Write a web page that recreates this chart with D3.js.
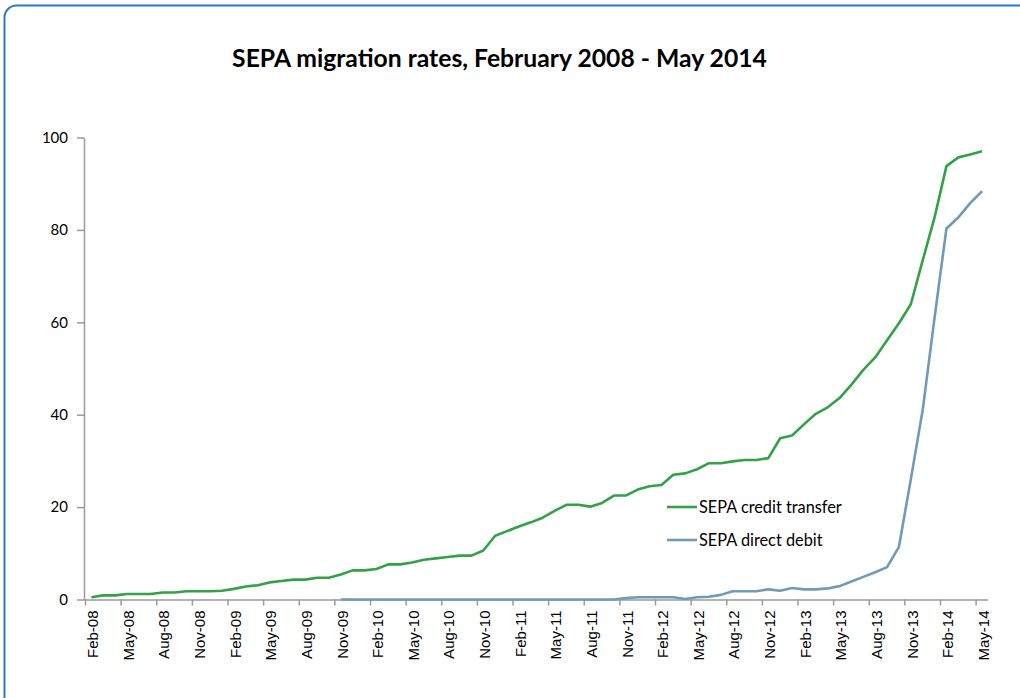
<!DOCTYPE html>
<html>
<head>
<meta charset="utf-8">
<script src="https://cdn.jsdelivr.net/npm/d3@7"></script>
<style>
  body { margin: 0; background: #fff; }
  svg { display: block; }
</style>
</head>
<body>
<div id="chart"></div>
<script>
// month categories, Feb-08 .. May-14
const months = [
    "Feb-08", "Mar-08", "Apr-08", "May-08", "Jun-08", "Jul-08", "Aug-08", "Sep-08", "Oct-08", "Nov-08", "Dec-08", "Jan-09",
    "Feb-09", "Mar-09", "Apr-09", "May-09", "Jun-09", "Jul-09", "Aug-09", "Sep-09", "Oct-09", "Nov-09", "Dec-09", "Jan-10",
    "Feb-10", "Mar-10", "Apr-10", "May-10", "Jun-10", "Jul-10", "Aug-10", "Sep-10", "Oct-10", "Nov-10", "Dec-10", "Jan-11",
    "Feb-11", "Mar-11", "Apr-11", "May-11", "Jun-11", "Jul-11", "Aug-11", "Sep-11", "Oct-11", "Nov-11", "Dec-11", "Jan-12",
    "Feb-12", "Mar-12", "Apr-12", "May-12", "Jun-12", "Jul-12", "Aug-12", "Sep-12", "Oct-12", "Nov-12", "Dec-12", "Jan-13",
    "Feb-13", "Mar-13", "Apr-13", "May-13", "Jun-13", "Jul-13", "Aug-13", "Sep-13", "Oct-13", "Nov-13", "Dec-13", "Jan-14",
    "Feb-14", "Mar-14", "Apr-14", "May-14"
];

// only every third month gets a label
const tickLabels = [
    "Feb-08", "May-08", "Aug-08", "Nov-08", "Feb-09", "May-09", "Aug-09", "Nov-09", "Feb-10", "May-10", "Aug-10", "Nov-10",
    "Feb-11", "May-11", "Aug-11", "Nov-11", "Feb-12", "May-12", "Aug-12", "Nov-12", "Feb-13", "May-13", "Aug-13", "Nov-13",
    "Feb-14", "May-14"
];

const creditTransfer = [
    0.5, 0.9, 0.9, 1.2, 1.2, 1.2, 1.5, 1.5, 1.8, 1.8, 1.8, 1.9,
    2.3, 2.8, 3.1, 3.7, 4.0, 4.3, 4.3, 4.7, 4.7, 5.4, 6.3, 6.3,
    6.6, 7.6, 7.6, 8.0, 8.6, 8.9, 9.2, 9.5, 9.5, 10.6, 13.8, 14.8,
    15.8, 16.7, 17.7, 19.2, 20.5, 20.5, 20.1, 20.9, 22.5, 22.5, 23.8, 24.5,
    24.8, 27.0, 27.3, 28.2, 29.5, 29.5, 29.9, 30.2, 30.2, 30.6, 34.9, 35.5,
    37.9, 40.2, 41.6, 43.6, 46.5, 49.7, 52.4, 56.1, 59.8, 63.9, 73.4, 82.7,
    93.8, 95.7, 96.3, 97.0
];

// direct debit only reported from Nov-09
const directDebit = [
    null, null, null, null, null, null, null, null, null, null, null, null,
    null, null, null, null, null, null, null, null, null, 0, 0, 0,
    0, 0, 0, 0, 0, 0, 0, 0, 0, 0, 0, 0,
    0, 0, 0, 0, 0, 0, 0, 0, 0, 0.3, 0.5, 0.5,
    0.5, 0.5, 0.1, 0.5, 0.6, 1.0, 1.8, 1.8, 1.8, 2.2, 1.9, 2.5,
    2.2, 2.2, 2.4, 2.9, 3.9, 4.9, 5.9, 7.0, 11.4, 26.0, 41.0, 61.0,
    80.3, 82.7, 85.8, 88.4
];

const yTicks = [0, 20, 40, 60, 80, 100];

const seriesList = [
    { name: "SEPA credit transfer", values: creditTransfer, color: "#33a146" },
    { name: "SEPA direct debit", values: directDebit, color: "#7199b8" }
];

const width = 1020, height = 698;
const plot = { left: 85.5, right: 988, top: 137.5, bottom: 599.5 };

const svg = d3.select("#chart")
    .append("svg")
    .attr("width", width)
    .attr("height", height);

// outer frame
svg.append("rect")
    .attr("x", 4.5)
    .attr("y", 5.5)
    .attr("width", 1040)
    .attr("height", 730)
    .attr("rx", 12)
    .attr("fill", "none")
    .attr("stroke", "#2a7bc6")
    .attr("stroke-width", 2);

const title = svg.append("text")
    .attr("x", 499.5)
    .attr("y", 67)
    .attr("text-anchor", "middle")
    .style("font-family", "Lato, 'Open Sans', sans-serif")
    .style("font-weight", "bold")
    .style("font-size", "22px")
    .attr("fill", "#000")
    .text("SEPA migration rates, February 2008 - May 2014");
// fit the title to the width it has in the picture
const tw = title.node().getComputedTextLength();
title.style("font-size", (22 * 535 / tw) + "px");

const xScale = d3.scaleBand()
    .domain(months)
    .range([plot.left, plot.right])
    .paddingInner(0)
    .paddingOuter(0);
const bw = xScale.bandwidth();

const yScale = d3.scaleLinear()
    .domain([0, 100])
    .range([plot.bottom, plot.top]);

const axisColor = "#9a9a9a";

// y axis
const yAxis = d3.axisLeft(yScale)
    .tickValues(yTicks)
    .tickSize(7)
    .tickSizeOuter(0)
    .tickPadding(9);

const gy = svg.append("g")
    .attr("transform", "translate(" + (plot.left - 1.5) + ",0)")
    .call(yAxis);
gy.selectAll("path, line").attr("stroke", axisColor).attr("stroke-width", 1.5);
gy.selectAll("text")
    .style("font-family", "Lato, sans-serif")
    .style("font-size", "15px")
    .attr("fill", "#000");

// x axis, ticks sit between the months
const xAxis = d3.axisBottom(xScale)
    .tickValues(tickLabels)
    .tickSize(6)
    .tickSizeOuter(0);

const gx = svg.append("g")
    .attr("transform", "translate(0," + plot.bottom + ")")
    .call(xAxis);
gx.select(".domain")
    .attr("d", "M" + (plot.left - 1.5) + ",0.5H" + plot.right);
gx.selectAll("path, line").attr("stroke", axisColor).attr("stroke-width", 1.5);
gx.selectAll(".tick line")
    .attr("x1", -bw / 2)
    .attr("x2", -bw / 2);
gx.selectAll(".tick text")
    .attr("transform", "rotate(-90)")
    .attr("text-anchor", "end")
    .attr("x", -11)
    .attr("y", 1.5)
    .attr("dy", "0.35em")
    .style("font-family", "'Liberation Sans', Arial, sans-serif")
    .style("font-size", "15px")
    .attr("fill", "#000");

// series lines
const line = d3.line()
    .defined(d => d[1] !== null)
    .x(d => xScale(d[0]) + bw / 2)
    .y(d => yScale(d[1]));

seriesList.forEach(s => {
    const pts = months.map((m, i) => [m, s.values[i]]);
    svg.append("path")
        .datum(pts)
        .attr("fill", "none")
        .attr("stroke", s.color)
        .attr("stroke-width", 2.6)
        .attr("stroke-linejoin", "round")
        .attr("d", line);
});

// legend
const legend = svg.append("g").attr("transform", "translate(667,507)");
seriesList.forEach((s, i) => {
    const row = legend.append("g").attr("transform", "translate(0," + (i * 33) + ")");
    row.append("line")
        .attr("x1", 0).attr("x2", 30)
        .attr("y1", 0).attr("y2", 0)
        .attr("stroke", s.color)
        .attr("stroke-width", 2.6);
    row.append("text")
        .attr("class", "legend-label")
        .attr("x", 32)
        .attr("y", 6)
        .style("font-family", "Lato, sans-serif")
        .style("font-size", "16px")
        .attr("fill", "#000")
        .text(s.name);
});
const lw = legend.select(".legend-label").node().getComputedTextLength();
legend.selectAll(".legend-label").style("font-size", (16 * 143 / lw) + "px");
</script>
</body>
</html>
